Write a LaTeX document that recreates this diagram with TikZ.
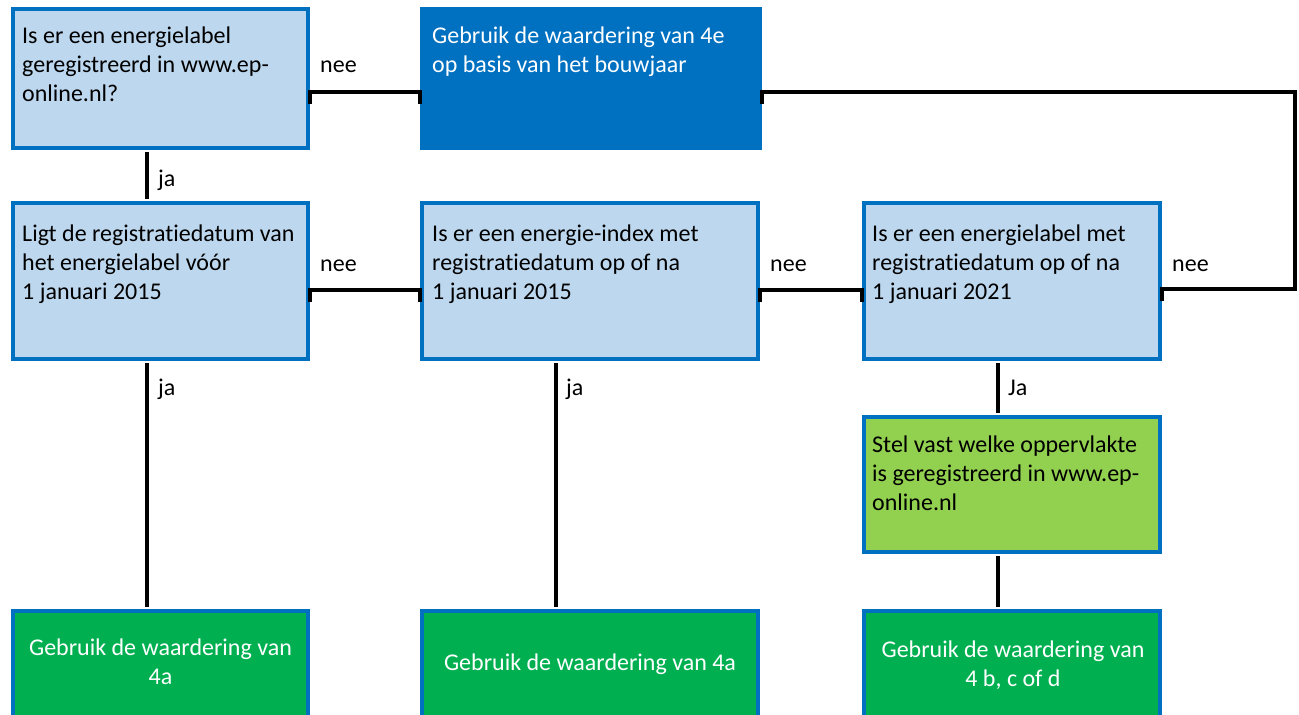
\documentclass[tikz,border=0pt]{standalone}
\usepackage{fontspec}
\setmainfont{Carlito}[Ligatures=NoCommon]
\usetikzlibrary{calc}
\definecolor{lblue}{HTML}{BDD7EE}
\definecolor{mblue}{HTML}{0070C0}
\definecolor{lgreen}{HTML}{92D050}
\definecolor{dgreen}{HTML}{00B050}
\newcommand{\fsz}{\fontsize{24}{29}\selectfont}
\begin{document}
\begin{tikzpicture}[x=1pt,y=1pt,
  box/.style={draw=mblue, line width=4pt, anchor=north west, inner sep=0pt},
  qbox/.style={box, fill=lblue},
  txt/.style={anchor=north west, inner sep=0pt, align=left, font=\fsz},
  ctxt/.style={anchor=north, inner sep=0pt, align=center, font=\fsz, text=white},
  lbl/.style={anchor=base west, inner sep=0pt, font=\fsz},
  conn/.style={draw=black, line width=4pt}]
\useasboundingbox (0,0) rectangle (1299,-715);
\clip (0,0) rectangle (1299,-715);
% boxes
\node[qbox, minimum width=295pt, minimum height=139pt] (b1) at (11,-7) {};
\node[box, fill=mblue, minimum width=338pt, minimum height=139pt] (b2) at (420,-7) {};
\node[qbox, minimum width=295pt, minimum height=156pt] (b3) at (11,-201) {};
\node[qbox, minimum width=336pt, minimum height=156pt] (b4) at (420,-201) {};
\node[qbox, minimum width=296pt, minimum height=156pt] (b5) at (862,-201) {};
\node[box, fill=lgreen, minimum width=296pt, minimum height=135pt] (b6) at (862,-415) {};
\node[box, fill=dgreen, minimum width=295pt, minimum height=130pt] (g1) at (11,-609) {};
\node[box, fill=dgreen, minimum width=336pt, minimum height=130pt] (g2) at (420,-609) {};
\node[box, fill=dgreen, minimum width=296pt, minimum height=130pt] (g3) at (862,-609) {};
% texts
\node[txt] (t1) at ([xshift=11pt,yshift=-15.7pt]b1.north west) {\strut Is er een energielabel\\geregistreerd in www.ep-\\online.nl?};
\node[txt, text=white] (t2) at ([xshift=12pt,yshift=-15.7pt]b2.north west) {\strut Gebruik de waardering van 4e\\op basis van het bouwjaar};
\node[txt] (t3) at ([xshift=11pt,yshift=-19.7pt]b3.north west) {\strut Ligt de registratiedatum van\\het energielabel vóór\\1 januari 2015};
\node[txt] (t4) at ([xshift=12pt,yshift=-19.7pt]b4.north west) {\strut Is er een energie-index met\\registratiedatum op of na\\1 januari 2015};
\node[txt] (t5) at ([xshift=10pt,yshift=-19.7pt]b5.north west) {\strut Is er een energielabel met\\registratiedatum op of na\\1 januari 2021};
\node[txt] (t6) at ([xshift=10pt,yshift=-16.7pt]b6.north west) {\strut Stel vast welke oppervlakte\\is geregistreerd in www.ep-\\online.nl};
\node[ctxt] (t7) at ([yshift=-25.7pt]g1.north) {\strut Gebruik de waardering van\\4a};
\node[ctxt] (t8) at ([yshift=-40.7pt]g2.north) {\strut Gebruik de waardering van 4a};
\node[ctxt] (t9) at ([xshift=1pt,yshift=-27.7pt]g3.north) {\strut Gebruik de waardering van\\4 b, c of d};
% connectors
\coordinate (rt) at (1295,-92);
\coordinate (rb) at (1295,-289);
\draw[conn] ($(b1.north east)+(0,-97)$) -- ($(b1.north east)+(0,-85)$) -- ($(b2.north west)+(0,-85)$) -- ($(b2.north west)+(0,-97)$);
\draw[conn] ($(b2.north east)+(0,-97)$) -- ($(b2.north east)+(0,-85)$) -- (rt) -- (rb) -- ($(b5.north east)+(0,-88)$) -- ($(b5.north east)+(0,-100)$);
\draw[conn] ($(b3.north east)+(0,-101)$) -- ($(b3.north east)+(0,-89)$) -- ($(b4.north west)+(0,-89)$) -- ($(b4.north west)+(0,-101)$);
\draw[conn] ($(b4.north east)+(0,-101)$) -- ($(b4.north east)+(0,-89)$) -- ($(b5.north west)+(0,-89)$) -- ($(b5.north west)+(0,-101)$);
\draw[conn] ($(b1.south west)+(136,-2)$) -- ($(b3.north west)+(136,2)$);
\draw[conn] ($(b3.south west)+(136,-2)$) -- ($(g1.north west)+(136,2)$);
\draw[conn] ($(b4.south west)+(136,-2)$) -- ($(g2.north west)+(136,2)$);
\draw[conn] ($(b5.south west)+(136,-2)$) -- ($(b6.north west)+(136,2)$);
\draw[conn] ($(b6.south west)+(136,-2)$) -- ($(g3.north west)+(136,2)$);
% labels
\node[lbl] (l1) at (320,-72) {nee};
\node[lbl] (l2) at (158,-186) {ja};
\node[lbl] (l3) at (320,-271) {nee};
\node[lbl] (l4) at (770,-271) {nee};
\node[lbl] (l5) at (1172,-271) {nee};
\node[lbl] (l6) at (158,-395) {ja};
\node[lbl] (l7) at (566,-395) {ja};
\node[lbl] (l8) at (1008,-395) {Ja};
\end{tikzpicture}
\end{document}
